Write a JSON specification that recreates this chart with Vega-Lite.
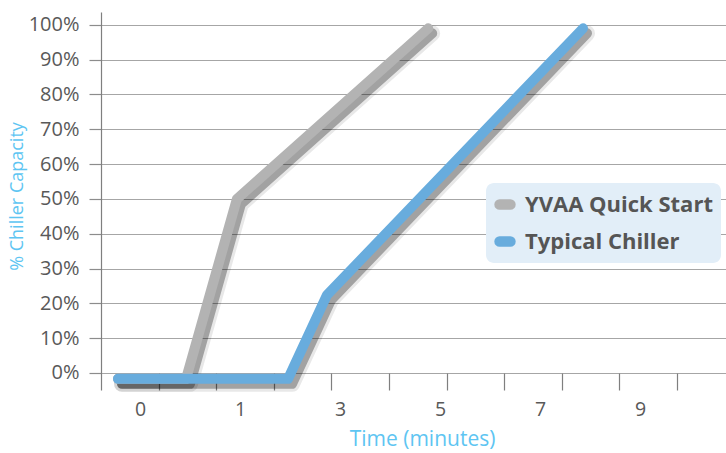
{
  "$schema": "https://vega.github.io/schema/vega-lite/v6.json",
  "autosize": "none",
  "width": 625,
  "height": 378,
  "padding": {"left": 101, "top": 12, "right": 0, "bottom": 63},
  "background": "white",
  "config": {
    "view": {"stroke": null},
    "font": "Open Sans",
    "axis": {"labelFont": "Open Sans", "titleFont": "Open Sans"},
    "legend": {"labelFont": "Open Sans"}
  },
  "data": {
    "values": [
      {"series": "YVAA Quick Start", "t": 0.295, "cap": -0.017},
      {"series": "YVAA Quick Start", "t": 1.476, "cap": -0.017},
      {"series": "YVAA Quick Start", "t": 2.36, "cap": 0.5},
      {"series": "YVAA Quick Start", "t": 5.68, "cap": 0.99},
      {"series": "Typical Chiller", "t": 0.295, "cap": -0.017},
      {"series": "Typical Chiller", "t": 3.247, "cap": -0.017},
      {"series": "Typical Chiller", "t": 3.924, "cap": 0.224},
      {"series": "Typical Chiller", "t": 8.368, "cap": 0.99}
    ]
  },
  "encoding": {
    "x": {
      "field": "t",
      "type": "quantitative",
      "scale": {"domain": [0, 10.85], "nice": false, "zero": false},
      "axis": {
        "title": "Time (minutes)",
        "titleColor": "#5ec5f2",
        "titleFontSize": 21,
        "titleFontWeight": 500,
        "titleX": 321,
        "titlePadding": 10,
        "values": [1, 2, 3, 4, 5, 6, 7, 8, 9, 10, 0.677, 2.413, 4.149, 5.885, 7.622, 9.358],
        "labelExpr": "datum.value == 0.677 ? '0' : datum.value == 2.413 ? '1' : datum.value == 4.149 ? '3' : datum.value == 5.885 ? '5' : datum.value == 7.622 ? '7' : datum.value == 9.358 ? '9' : ''",
        "labelOverlap": false,
        "labelBound": false,
        "labelFlush": false,
        "labelFontSize": 19.5,
        "labelColor": "#595959",
        "labelPadding": 10,
        "domain": false,
        "grid": false,
        "offset": -17,
        "tickSize": 17,
        "tickColor": "#7f7f7f",
        "tickWidth": 1.2,
        "tickOpacity": {"condition": {"test": "datum.value % 1 === 0", "value": 1}, "value": 0}
      }
    },
    "y": {
      "field": "cap",
      "type": "quantitative",
      "scale": {"domain": [-0.049, 1.037], "nice": false, "zero": false},
      "axis": {
        "title": "% Chiller Capacity",
        "titleColor": "#5ec5f2",
        "titleFontSize": 18,
        "titleFontWeight": 500,
        "titleX": -84,
        "titleY": 184,
        "titleBaseline": "middle",
        "values": [0, 0.1, 0.2, 0.3, 0.4, 0.5, 0.6, 0.7, 0.8, 0.9, 1.0],
        "format": ".0%",
        "labelFontSize": 20,
        "labelColor": "#595959",
        "labelPadding": 10,
        "tickSize": 12,
        "tickColor": "#8c8c8c",
        "tickWidth": 1.2,
        "domainColor": "#7f7f7f",
        "domainWidth": 1.2,
        "grid": true,
        "gridColor": "#a6a6a6",
        "gridWidth": 1.2
      }
    }
  },
  "layer": [
    {
      "mark": {"type": "line", "stroke": "#000000", "strokeWidth": 16, "opacity": 0.09, "xOffset": 4, "yOffset": 5, "strokeCap": "round", "strokeJoin": "round"},
      "encoding": {"detail": {"field": "series"}}
    },
    {
      "mark": {"type": "line", "stroke": "#000000", "strokeWidth": 10, "opacity": 0.3, "xOffset": 4, "yOffset": 5, "strokeCap": "round", "strokeJoin": "round"},
      "encoding": {"detail": {"field": "series"}}
    },
    {
      "transform": [{"filter": "datum.series == 'YVAA Quick Start'"}],
      "mark": {"type": "line", "strokeWidth": 10, "strokeCap": "round", "strokeJoin": "round"},
      "encoding": {
        "color": {
          "field": "series",
          "type": "nominal",
          "scale": {"domain": ["YVAA Quick Start", "Typical Chiller"], "range": ["#b3b3b3", "#68acdd"]},
          "legend": {
            "title": null,
            "orient": "none",
            "legendX": 385,
            "legendY": 171,
            "padding": 8,
            "fillColor": "#e2eef8",
            "cornerRadius": 8,
            "strokeColor": null,
            "labelFontSize": 22,
            "labelFontWeight": "bold",
            "labelColor": "#555555",
            "labelOffset": 9,
            "labelLimit": 400,
            "clipHeight": 27,
            "rowPadding": 10,
            "symbolType": "M-0.9,-0.05L0.9,-0.05A0.05,0.05 0 0 1 0.9,0.05L-0.9,0.05A0.05,0.05 0 0 1 -0.9,-0.05Z",
            "symbolSize": 144,
            "symbolStrokeWidth": 10
          }
        }
      }
    },
    {
      "transform": [{"filter": "datum.series == 'Typical Chiller'"}],
      "mark": {"type": "line", "strokeWidth": 10, "strokeCap": "round", "strokeJoin": "round"},
      "encoding": {
        "color": {"field": "series", "type": "nominal"}
      }
    }
  ]
}
